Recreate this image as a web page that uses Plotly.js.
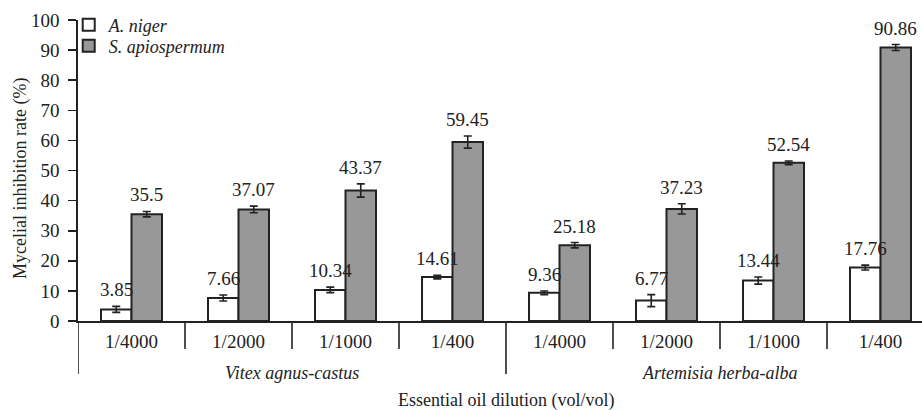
<!DOCTYPE html>
<html>
<head>
<meta charset="utf-8">
<script src="https://cdn.plot.ly/plotly-3.0.1.min.js"></script>
<style>html,body{margin:0;padding:0;background:#fff;}#chart{width:922px;height:410px;}</style>
</head>
<body>
<div id="chart"></div>
<script>
// ---- data ----
const dilutions = ["1/4000", "1/2000", "1/1000", "1/400", "1/4000", "1/2000", "1/1000", "1/400"];
const oils = ["Vitex agnus-castus", "Artemisia herba-alba"];
const oilOfCategory = [0, 0, 0, 0, 1, 1, 1, 1];
const seriesNames = ["A. niger", "S. apiospermum"];
const aNiger = [3.85, 7.66, 10.34, 14.61, 9.36, 6.77, 13.44, 17.76];
const aNigerErr = [1.0, 1.0, 0.9, 0.6, 0.6, 2.0, 1.2, 0.8];
const sApio = [35.5, 37.07, 43.37, 59.45, 25.18, 37.23, 52.54, 90.86];
const sApioErr = [0.9, 1.1, 2.2, 2.0, 0.9, 1.7, 0.6, 1.0];
const yTicks = [0, 10, 20, 30, 40, 50, 60, 70, 80, 90, 100];
const xTitle = "Essential oil dilution (vol/vol)";
const yTitle = "Mycelial inhibition rate (%)";

// ---- styling ----
const FONT = "Liberation Serif, Times New Roman, serif";
const INK = "#222222";
const BARGAP = 0.43;
const barW = (1 - BARGAP) / 2;
const idx = dilutions.map((_, i) => i);
const plotW = 844, plotH = 301;

function errObj(arr) {
  return {type: "data", array: arr, visible: true, color: INK, thickness: 1.6, width: 4};
}

const traces = [
  {type: "bar", name: seriesNames[0], x: idx, y: aNiger, error_y: errObj(aNigerErr), legend: "legend",
   marker: {color: "#ffffff", line: {color: INK, width: 2}}, hoverinfo: "skip"},
  {type: "bar", name: seriesNames[1], x: idx, y: sApio, error_y: errObj(sApioErr), legend: "legend2",
   marker: {color: "#989898", line: {color: INK, width: 2}}, hoverinfo: "skip"}
];

// separators between categories (short) and between oils (long)
const shapes = [];
for (let b = 0; b <= dilutions.length; b++) {
  const isGroupEdge = b === 0 || b === dilutions.length || oilOfCategory[b] !== oilOfCategory[b - 1];
  shapes.push({type: "line", xref: "x", yref: "paper", x0: b - 0.5, x1: b - 0.5,
    y0: 0, y1: -(isGroupEdge ? 53 : 28) / plotH, line: {color: INK, width: 1.6}});
}

const annotations = [];
// value labels above the error bars
[[aNiger, aNigerErr, -1], [sApio, sApioErr, 1]].forEach(([vals, errs, side]) => {
  vals.forEach((v, i) => {
    annotations.push({xref: "x", yref: "y", x: i + side * barW / 2, y: v + errs[i],
      yanchor: "bottom", yshift: 4, text: String(v), showarrow: false,
      font: {family: FONT, size: 19, color: INK}});
  });
});
oils.forEach((name, g) => {
  const members = idx.filter(i => oilOfCategory[i] === g);
  const center = (members[0] + members[members.length - 1]) / 2;
  annotations.push({xref: "x", yref: "paper", x: center, y: -52 / plotH, yanchor: "middle",
    text: "<i>" + name + "</i>", showarrow: false, font: {family: FONT, size: 18, color: INK}});
});
annotations.push({xref: "x", yref: "paper", x: (dilutions.length - 1) / 2, y: -79 / plotH, yanchor: "middle",
  text: xTitle, showarrow: false, font: {family: FONT, size: 18, color: INK}});
annotations.push({xref: "paper", yref: "paper", x: -58 / plotW, y: 1 - 159 / plotH,
  xanchor: "center", yanchor: "middle", textangle: -90,
  text: yTitle, showarrow: false, font: {family: FONT, size: 18, color: INK}});

const legendBase = {xanchor: "left", yanchor: "middle", bgcolor: "rgba(0,0,0,0)",
  font: {family: FONT, size: 18, color: INK, style: "italic"}, itemwidth: 30};

const layout = {
  width: 922, height: 410,
  margin: {l: 78, r: 0, t: 20, b: 89},
  paper_bgcolor: "#ffffff", plot_bgcolor: "#ffffff",
  font: {family: FONT, color: INK, size: 18},
  barmode: "group", bargap: BARGAP, bargroupgap: 0,
  showlegend: true,
  legend: Object.assign({x: -0.011, y: 1 - 5 / plotH}, legendBase),
  legend2: Object.assign({x: -0.011, y: 1 - 26 / plotH}, legendBase),
  xaxis: {range: [-0.5, -0.5 + plotW / 107], showgrid: false, zeroline: false,
    showline: true, linecolor: INK, linewidth: 1.6, ticks: "",
    tickmode: "array", tickvals: idx, ticktext: dilutions,
    tickfont: {family: FONT, size: 19, color: INK}, ticklabelstandoff: 3, fixedrange: true},
  yaxis: {range: [0, 100], showgrid: false, zeroline: false,
    showline: true, linecolor: INK, linewidth: 1.6,
    ticks: "outside", ticklen: 8, tickwidth: 1.6, tickcolor: INK,
    tickmode: "array", tickvals: yTicks,
    tickfont: {family: FONT, size: 19, color: INK}, ticklabelstandoff: 5,
    fixedrange: true},
  shapes: shapes,
  annotations: annotations
};

Plotly.newPlot("chart", traces, layout, {displayModeBar: false, staticPlot: true});
</script>
</body>
</html>
